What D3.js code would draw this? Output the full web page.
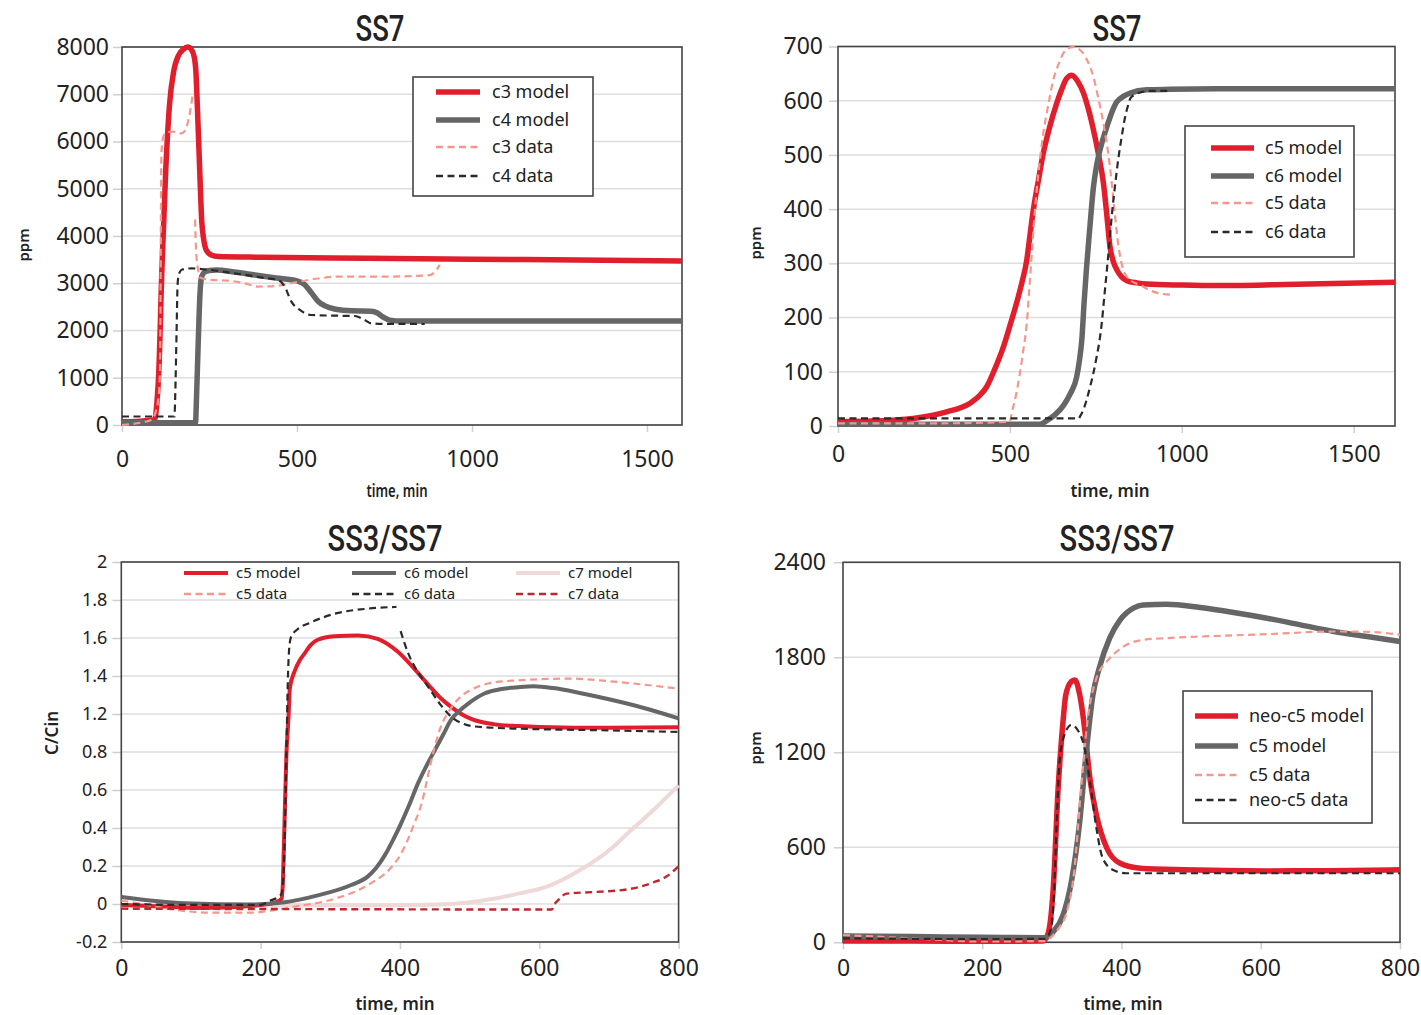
<!DOCTYPE html>
<html>
<head>
<meta charset="utf-8">
<script src="https://cdn.jsdelivr.net/npm/d3@7"></script>
<style>
  body { margin: 0; background: #fff; }
  svg { display: block; }
  text { font-family: "Noto Sans", sans-serif; fill: #222; }
</style>
</head>
<body>
<div id="chart"></div>
<script>
// ---- panel 1: SS7, c3 / c4 (time in min, ppm) ----
var p1XTicks = [0, 500, 1000, 1500];
var p1YTicks = [0, 1000, 2000, 3000, 4000, 5000, 6000, 7000, 8000];
var p1C3Model = [[0,70],[50,80],[93,110],[100,500],[105,1100],[114,3300],[125,5400],[136,6800],[148,7500],[160,7800],[175,7950],[188,8000],[198,7950],[206,7800],[211,7500],[215,6800],[222,5400],[228,4300],[233,3950],[241,3700],[255,3600],[275,3565],[400,3550],[700,3530],[1000,3510],[1300,3490],[1600,3470]];
var p1C4Model = [[0,50],[100,50],[210,50],[213,600],[218,1800],[223,2800],[228,3150],[235,3230],[250,3270],[270,3280],[320,3240],[380,3175],[440,3110],[500,3050],[520,2980],[541,2800],[560,2620],[580,2520],[610,2450],[655,2416],[712,2410],[730,2370],[745,2290],[765,2220],[800,2200],[1600,2200]];
var p1C3Data = [[0,0],[30,20],[60,60],[84,110],[95,250],[103,500],[108,1000],[110,2500],[111,4200],[113,5800],[118,6100],[125,6180],[145,6210],[169,6170],[180,6230],[188,6400],[195,6650],[203,7050],[206,null],[209,4350],[211,3800],[217,3300],[226,3110],[255,3070],[303,3055],[350,3000],[389,2930],[436,2940],[503,3030],[560,3100],[617,3140],[750,3140],[879,3170],[895,3250],[908,3390]];
var p1C4Data = [[0,180],[100,180],[150,180],[152,600],[156,2000],[159,3000],[164,3220],[172,3290],[198,3315],[236,3295],[322,3210],[400,3120],[446,3068],[465,2927],[484,2610],[508,2434],[541,2328],[608,2314],[665,2307],[693,2222],[712,2152],[760,2140],[865,2138]];

// ---- panel 2: SS7, c5 / c6 ----
var p2XTicks = [0, 500, 1000, 1500];
var p2YTicks = [0, 100, 200, 300, 400, 500, 600, 700];
var p2C5Model = [[0,8],[100,9],[219,14],[316,26],[384,42],[410,55],[432,72],[456,105],[481,146],[500,185],[519,226],[535,265],[549,306],[558,350],[568,398],[582,450],[597,503],[615,550],[636,595],[650,620],[665,641],[680,647],[697,636],[714,614],[728,585],[743,546],[758,500],[772,448],[781,395],[791,331],[800,305],[811,288],[825,275],[840,268],[870,264],[898,262],[1000,260],[1100,259],[1300,261],[1620,265]];
var p2C6Model = [[0,3],[300,3],[587,3],[607,10],[630,20],[656,38],[676,60],[694,90],[702,120],[709,158],[716,230],[723,293],[733,370],[743,441],[752,480],[762,509],[772,532],[782,552],[796,578],[811,598],[830,608],[850,614],[898,620],[966,621],[1100,622],[1620,622]];
var p2C5Data = [[0,5],[300,5],[500,8],[505,23],[517,55],[529,97],[539,140],[549,189],[556,250],[563,312],[570,375],[578,435],[587,490],[597,540],[611,590],[626,638],[640,665],[655,687],[670,697],[684,699],[699,696],[714,687],[728,670],[743,644],[757,605],[772,558],[782,520],[791,478],[799,430],[806,386],[816,331],[830,288],[850,269],[879,260],[908,250],[940,244],[975,242]];
var p2C6Data = [[0,14],[300,14],[699,14],[706,20],[713,29],[723,48],[733,72],[743,98],[752,127],[760,155],[767,189],[774,235],[781,281],[789,335],[796,386],[806,445],[816,496],[826,537],[835,570],[843,590],[850,604],[860,610],[869,613],[908,618],[971,618]];

// ---- panel 3: SS3/SS7, C/Cin ----
var p3XTicks = [0, 200, 400, 600, 800];
var p3YLabels = ["-0.2", "0", "0.2", "0.4", "0.6", "0.8", "1.2", "1.4", "1.6", "1.8", "2"];
var p3C5Model = [[0,0.015],[43,0.009],[115,-0.003],[187,0.009],[220,0.028],[230,0.05],[232,0.15],[233,0.3],[235,0.6],[237,0.88],[240,1.1],[242,1.27],[249,1.37],[256,1.43],[263,1.47],[272,1.52],[282,1.55],[306,1.57],[340,1.575],[368,1.555],[397,1.48],[421,1.38],[445,1.27],[459,1.21],[474,1.16],[488,1.12],[503,1.09],[536,1.06],[570,1.05],[600,1.045],[700,1.04],[800,1.043]];
var p3C6Model = [[0,0.06],[91,0.024],[187,0.017],[235,0.03],[282,0.07],[330,0.13],[354,0.18],[366,0.23],[378,0.30],[390,0.39],[402,0.49],[414,0.6],[426,0.72],[438,0.82],[450,0.91],[462,1.0],[474,1.09],[486,1.14],[498,1.18],[522,1.24],[546,1.265],[570,1.275],[592,1.28],[620,1.27],[660,1.24],[700,1.205],[750,1.155],[800,1.095]];
var p3C7Model = [[0,0.012],[200,0.012],[400,0.013],[474,0.02],[534,0.05],[570,0.08],[611,0.12],[658,0.215],[706,0.35],[727,0.43],[760,0.55],[800,0.707]];
var p3C5Data = [[0,0.04],[30,0.02],[70,-0.01],[130,-0.03],[187,-0.03],[220,-0.015],[249,0.005],[306,0.05],[354,0.13],[387,0.23],[400,0.3],[411,0.39],[421,0.49],[431,0.6],[438,0.72],[445,0.85],[452,0.96],[459,1.05],[468,1.12],[478,1.18],[490,1.23],[502,1.26],[531,1.3],[570,1.315],[644,1.325],[700,1.31],[750,1.29],[800,1.267]];
var p3C6Data = [[0,0.02],[100,0.015],[200,0.015],[214,0.04],[225,0.06],[230,0.08],[234,0.3],[237,0.9],[239,1.3],[241,1.5],[244,1.57],[253,1.61],[272,1.65],[306,1.7],[354,1.73],[395,1.74],[398,null],[401,1.6],[411,1.48],[426,1.36],[440,1.28],[459,1.17],[478,1.09],[490,1.065],[503,1.05],[536,1.04],[570,1.035],[700,1.025],[800,1.016]];
var p3C7Data = [[0,-0.007],[300,-0.01],[618,-0.012],[622,0.02],[627,0.042],[639,0.08],[682,0.09],[730,0.107],[764,0.145],[783,0.18],[800,0.238]];

// ---- panel 4: SS3/SS7, neo-c5 / c5 ----
var p4XTicks = [0, 200, 400, 600, 800];
var p4YTicks = [0, 600, 1200, 1800, 2400];
var p4NeoModel = [[0,8],[100,8],[200,6],[287,8],[294,47],[302,342],[309,973],[316,1394],[320,1563],[328,1647],[333,1657],[340,1563],[347,1352],[354,1057],[364,805],[379,594],[398,499],[427,468],[489,458],[609,451],[700,452],[800,458]];
var p4C5Model = [[0,40],[100,36],[200,32],[290,29],[302,67],[316,172],[328,383],[340,762],[349,1183],[359,1563],[368,1731],[383,1921],[398,2036],[417,2110],[431,2131],[465,2135],[513,2114],[561,2083],[609,2047],[657,2005],[705,1963],[753,1931],[800,1900]];
var p4C5Data = [[0,46],[100,25],[200,5],[290,8],[297,25],[310,90],[320,172],[332,446],[342,973],[351,1394],[364,1668],[379,1773],[393,1836],[412,1889],[431,1910],[465,1921],[513,1931],[609,1946],[705,1963],[760,1960],[800,1942]];
var p4NeoData = [[0,25],[100,22],[200,20],[290,22],[299,88],[303,300],[307,762],[311,1141],[318,1310],[328,1373],[337,1341],[347,1226],[356,973],[364,720],[373,531],[388,457],[407,436],[513,436],[800,436]];

var RED = "#e01e2c", GRAY = "#666666", SALMON = "#f5978d", BLACK = "#2a2a2a", PALE = "#efd8d8", DARKRED = "#c0262d";

var svg = d3.select("#chart").append("svg")
    .attr("width", 1421).attr("height", 1015);
svg.append("rect").attr("width", 1421).attr("height", 1015).attr("fill", "#fff");

function drawPanel(p) {
  var g = svg.append("g");
  var x = d3.scaleLinear().domain(p.xDomain).range([p.left, p.right]);
  var y = d3.scaleLinear().domain(p.yDomain).range([p.bottom, p.top]);

  // grid
  g.selectAll(".grid").data(p.yTicks).enter().append("line")
    .attr("x1", p.left).attr("x2", p.right)
    .attr("y1", d => y(d)).attr("y2", d => y(d))
    .attr("stroke", "#dedede").attr("stroke-width", 1.5);

  // axes
  var ya = g.append("g").attr("transform", "translate(" + p.left + ",0)")
    .call(d3.axisLeft(y).tickValues(p.yTicks).tickSize(9).tickPadding(p.yPad)
      .tickFormat(p.yFormat || d3.format("d")));
  var xa = g.append("g").attr("transform", "translate(0," + p.bottom + ")")
    .call(d3.axisBottom(x).tickValues(p.xTicks).tickSize(7).tickPadding(p.xPad)
      .tickFormat(d3.format("d")));
  [ya, xa].forEach(function (a) {
    a.select(".domain").remove();
    a.selectAll(".tick line").attr("stroke", "#cfcfcf").attr("stroke-width", 1.5);
    a.selectAll(".tick text").style("font-size", p.tickFont + "px").attr("fill", "#222");
  });
  ya.selectAll(".tick text").style("font-size", (p.yTickFont || p.tickFont) + "px");

  // frame
  g.append("rect").attr("x", p.left).attr("y", p.top)
    .attr("width", p.right - p.left).attr("height", p.bottom - p.top)
    .attr("fill", "none").attr("stroke", "#444").attr("stroke-width", 1.6);

  // series
  var line = d3.line().defined(d => d[1] != null)
    .x(d => x(d[0])).y(d => y(d[1])).curve(d3.curveMonotoneX);
  p.series.forEach(function (s) {
    g.append("path").datum(s.data).attr("d", line)
      .attr("fill", "none").attr("stroke", s.color).attr("stroke-width", s.width)
      .attr("stroke-dasharray", s.dash || null)
      .attr("stroke-linejoin", "round");
  });

  // titles
  g.append("text").attr("x", p.titleX).attr("y", p.titleY)
    .attr("text-anchor", "middle").attr("textLength", p.titleLen)
    .attr("lengthAdjust", "spacingAndGlyphs")
    .style("font-family", "Roboto, sans-serif").style("font-weight", 500)
    .style("font-size", "37px").text(p.title);
  var xt = g.append("text").attr("x", p.xTitleX).attr("y", p.xTitleY)
    .attr("text-anchor", "middle").style("font-weight", 600)
    .style("font-size", "17px").text("time, min");
  if (p.xTitleLen) xt.attr("textLength", p.xTitleLen).attr("lengthAdjust", "spacingAndGlyphs");
  g.append("text")
    .attr("transform", "translate(" + p.yTitleX + "," + p.yTitleY + ") rotate(-90)")
    .attr("text-anchor", "middle").style("font-weight", 600)
    .style("font-size", p.yTitleSize + "px").text(p.yTitle);

  // legend
  var L = p.legend;
  if (L.box) {
    g.append("rect").attr("x", L.box[0]).attr("y", L.box[1])
      .attr("width", L.box[2] - L.box[0]).attr("height", L.box[3] - L.box[1])
      .attr("fill", "#fff").attr("stroke", "#444").attr("stroke-width", 1.6);
  }
  L.items.forEach(function (it) {
    var s = p.series[it.i];
    g.append("line").attr("x1", it.x).attr("x2", it.x + L.len)
      .attr("y1", it.y).attr("y2", it.y)
      .attr("stroke", s.color).attr("stroke-width", s.dash ? 2.6 : L.w)
      .attr("stroke-dasharray", s.dash || null);
    g.append("text").attr("x", it.x + L.len + L.gap).attr("y", it.y)
      .attr("dy", "0.35em").style("font-size", L.font + "px").attr("fill", "#333")
      .text(s.name);
  });
}

drawPanel({
  left: 122, right: 682, top: 47, bottom: 425,
  xDomain: [0, 1600], yDomain: [0, 8000], xTicks: p1XTicks, yTicks: p1YTicks,
  tickFont: 23, xPad: 19, yPad: 4,
  title: "SS7", titleX: 380, titleY: 41, titleLen: 49,
  xTitleX: 397, xTitleY: 497, xTitleLen: 61,
  yTitle: "ppm", yTitleX: 29, yTitleY: 245, yTitleSize: 15,
  series: [
    { name: "c3 model", data: p1C3Model, color: RED, width: 5.5 },
    { name: "c4 model", data: p1C4Model, color: GRAY, width: 5.5 },
    { name: "c3 data", data: p1C3Data, color: SALMON, width: 2.2, dash: "7,4.5" },
    { name: "c4 data", data: p1C4Data, color: BLACK, width: 2.2, dash: "7,4.5" }
  ],
  legend: { box: [413, 77, 593, 196], len: 44, gap: 12, w: 5.5, font: 18,
    items: [{ i: 0, x: 436, y: 92 }, { i: 1, x: 436, y: 120 }, { i: 2, x: 436, y: 147 }, { i: 3, x: 436, y: 176 }] }
});

drawPanel({
  left: 838, right: 1395, top: 46.5, bottom: 426,
  xDomain: [0, 1620], yDomain: [0, 700], xTicks: p2XTicks, yTicks: p2YTicks,
  tickFont: 23, xPad: 13, yPad: 6,
  title: "SS7", titleX: 1117, titleY: 41, titleLen: 49,
  xTitleX: 1110, xTitleY: 497,
  yTitle: "ppm", yTitleX: 761, yTitleY: 243, yTitleSize: 15,
  series: [
    { name: "c5 model", data: p2C5Model, color: RED, width: 5.5 },
    { name: "c6 model", data: p2C6Model, color: GRAY, width: 5.5 },
    { name: "c5 data", data: p2C5Data, color: SALMON, width: 2.2, dash: "7,4.5" },
    { name: "c6 data", data: p2C6Data, color: BLACK, width: 2.2, dash: "7,4.5" }
  ],
  legend: { box: [1185, 126, 1354, 257], len: 43, gap: 11, w: 5.5, font: 18,
    items: [{ i: 0, x: 1211, y: 148 }, { i: 1, x: 1211, y: 176 }, { i: 2, x: 1211, y: 203 }, { i: 3, x: 1211, y: 232 }] }
});

var p3YTicks = d3.range(p3YLabels.length).map(i => -0.2 + i * 0.22);
drawPanel({
  left: 121.3, right: 678.6, top: 562, bottom: 942,
  xDomain: [0, 800], yDomain: [-0.2, 2.0], xTicks: p3XTicks, yTicks: p3YTicks,
  yFormat: (d, i) => p3YLabels[i],
  tickFont: 23, yTickFont: 18, xPad: 11, yPad: 5,
  title: "SS3/SS7", titleX: 385, titleY: 551, titleLen: 115,
  xTitleX: 395, xTitleY: 1010,
  yTitle: "C/Cin", yTitleX: 58, yTitleY: 733, yTitleSize: 17,
  series: [
    { name: "c7 model", data: p3C7Model, color: PALE, width: 4 },
    { name: "c5 model", data: p3C5Model, color: RED, width: 4 },
    { name: "c6 model", data: p3C6Model, color: GRAY, width: 4 },
    { name: "c5 data", data: p3C5Data, color: SALMON, width: 2.2, dash: "7,4.5" },
    { name: "c6 data", data: p3C6Data, color: BLACK, width: 2.2, dash: "7,4.5" },
    { name: "c7 data", data: p3C7Data, color: DARKRED, width: 2.4, dash: "7,4.5" }
  ],
  legend: { len: 44, gap: 8, w: 4, font: 15,
    items: [{ i: 1, x: 184, y: 573 }, { i: 3, x: 184, y: 594 },
            { i: 2, x: 352, y: 573 }, { i: 4, x: 352, y: 594 },
            { i: 0, x: 516, y: 573 }, { i: 5, x: 516, y: 594 }] }
});

drawPanel({
  left: 843, right: 1400, top: 562.3, bottom: 942.3,
  xDomain: [0, 800], yDomain: [0, 2400], xTicks: p4XTicks, yTicks: p4YTicks,
  tickFont: 23, xPad: 10, yPad: 8,
  title: "SS3/SS7", titleX: 1117, titleY: 551, titleLen: 115,
  xTitleX: 1123, xTitleY: 1010,
  yTitle: "ppm", yTitleX: 761, yTitleY: 748, yTitleSize: 15,
  series: [
    { name: "neo-c5 model", data: p4NeoModel, color: RED, width: 5.5 },
    { name: "c5 model", data: p4C5Model, color: GRAY, width: 5.5 },
    { name: "c5 data", data: p4C5Data, color: SALMON, width: 2.2, dash: "7,4.5" },
    { name: "neo-c5 data", data: p4NeoData, color: BLACK, width: 2.2, dash: "7,4.5" }
  ],
  legend: { box: [1183, 691, 1372, 823], len: 43, gap: 11, w: 5.5, font: 18,
    items: [{ i: 0, x: 1195, y: 716 }, { i: 1, x: 1195, y: 746 }, { i: 2, x: 1195, y: 775 }, { i: 3, x: 1195, y: 800 }] }
});
</script>
</body>
</html>
